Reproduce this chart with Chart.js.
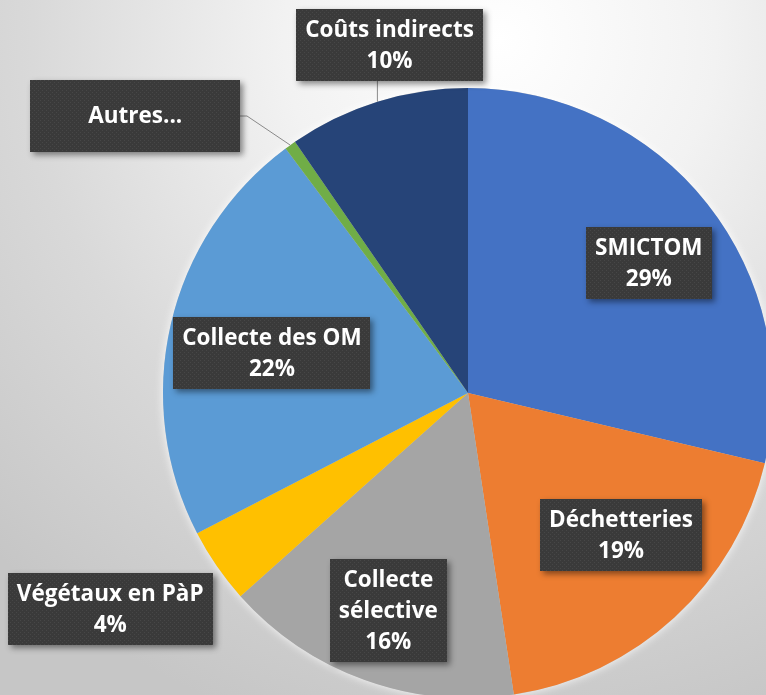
<!DOCTYPE html>
<html>
<head>
<meta charset="utf-8">
<script src="https://cdn.jsdelivr.net/npm/chart.js@4.4.1/dist/chart.umd.min.js"></script>
<style>
  html, body { margin: 0; padding: 0; background: #e0e0e0; }
  #clip { width: 766px; height: 695px; overflow: hidden; position: relative; }
  #wrap { width: 800px; height: 800px; position: absolute; left: 0; top: 0; }
</style>
</head>
<body>
<div id="clip"><div id="wrap"><canvas id="c"></canvas></div></div>
<script>
// ---- data ----
const categories = ['SMICTOM', 'Déchetteries', 'Collecte sélective', 'Végétaux en PàP', 'Collecte des OM', 'Autres...', 'Coûts indirects'];
const shares = [28.7, 18.9, 15.8, 4.0, 22.4, 0.6, 9.6];
const labelLines = [['SMICTOM'], ['Déchetteries'], ['Collecte', 'sélective'], ['Végétaux en PàP'], ['Collecte des OM'], ['Autres...'], ['Coûts indirects']];
const showPercent = [true, true, true, true, true, false, true];
const sliceColors = ['#4472C4', '#ED7D31', '#A5A5A5', '#FFC000', '#5B9BD5', '#70AD47', '#264478'];

// ---- label layout (angle from top clockwise in degrees, radius factor) ----
const labelPlace = [
  { a: 54.3, r: 0.73 },
  { a: 132.9, r: 0.685 },
  { a: 200.1, r: 0.76 },
  { a: 238.9, r: 1.37, leader: false },
  { a: 281.5, r: 0.656 },
  { a: 309.8, r: 1.42, w: 210, h: 72, leader: true },
  { a: 347.3, r: 1.17, leader: true }
];

const FONT = 'bold 22.5px "Open Sans"';
const LINE_H = 31;

// dotted texture for label boxes
function makePattern(ctx) {
  const p = document.createElement('canvas');
  p.width = 4; p.height = 4;
  const g = p.getContext('2d');
  g.fillStyle = '#3a3a3a';
  g.fillRect(0, 0, 4, 4);
  g.fillStyle = '#474747';
  g.fillRect(0, 0, 1, 1);
  g.fillRect(2, 2, 1, 1);
  return ctx.createPattern(p, 'repeat');
}

const bgPlugin = {
  id: 'bg',
  beforeDraw(chart) {
    const ctx = chart.ctx;
    const g = ctx.createRadialGradient(500, 40, 0, 500, 40, 720);
    g.addColorStop(0, '#ffffff');
    g.addColorStop(0.3, '#f2f2f2');
    g.addColorStop(0.65, '#d9d9d9');
    g.addColorStop(1, '#c6c6c6');
    ctx.save();
    ctx.fillStyle = g;
    ctx.fillRect(0, 0, chart.width, chart.height);
    ctx.restore();
  },
  beforeDatasetsDraw(chart) {
    const arc = chart.getDatasetMeta(0).data[0];
    if (!arc) return;
    const ctx = chart.ctx;
    ctx.save();
    ctx.shadowColor = 'rgba(255,255,255,0.9)';
    ctx.shadowBlur = 10;
    ctx.fillStyle = '#cccccc';
    ctx.beginPath();
    ctx.arc(arc.x, arc.y, arc.outerRadius, 0, Math.PI * 2);
    ctx.fill();
    ctx.restore();
  }
};

const labelPlugin = {
  id: 'boxLabels',
  afterDatasetsDraw(chart) {
    const ctx = chart.ctx;
    const meta = chart.getDatasetMeta(0);
    const data = chart.data.datasets[0].data;
    const total = data.reduce((s, v) => s + v, 0);
    const pattern = makePattern(ctx);
    ctx.save();
    ctx.font = FONT;
    meta.data.forEach((arc, i) => {
      const pl = labelPlace[i];
      const R = arc.outerRadius;
      const ang = pl.a * Math.PI / 180;
      const cx = arc.x + Math.sin(ang) * R * pl.r;
      const cy = arc.y - Math.cos(ang) * R * pl.r;
      const lines = labelLines[i].slice();
      if (showPercent[i]) lines.push(Math.round(data[i] / total * 100) + '%');
      let tw = 0;
      lines.forEach(t => { tw = Math.max(tw, ctx.measureText(t).width); });
      const w = pl.w || Math.round(tw + 18);
      const h = pl.h || Math.round(lines.length * LINE_H + 10);
      const x0 = Math.round(cx - w / 2), y0 = Math.round(cy - h / 2);

      // leader line
      if (pl.leader) {
        const mid = (arc.startAngle + arc.endAngle) / 2;
        const px = arc.x + Math.cos(mid) * R;
        const py = arc.y + Math.sin(mid) * R;
        ctx.save();
        ctx.strokeStyle = '#8a8a8a';
        ctx.lineWidth = 1;
        ctx.beginPath();
        if (px >= x0 && px <= x0 + w && py > y0 + h) {
          ctx.moveTo(px, y0 + h);
          ctx.lineTo(px, py);
        } else {
          const sx = px > x0 + w ? x0 + w : x0;
          const dir = px > x0 + w ? 1 : -1;
          ctx.moveTo(sx, y0 + h / 2);
          ctx.lineTo(sx + dir * 7, y0 + h / 2);
          ctx.lineTo(px, py);
        }
        ctx.stroke();
        ctx.restore();
      }

      // box with shadow
      ctx.save();
      ctx.shadowColor = 'rgba(0,0,0,0.45)';
      ctx.shadowBlur = 6;
      ctx.shadowOffsetX = 3;
      ctx.shadowOffsetY = 3;
      ctx.fillStyle = '#3b3b3b';
      ctx.fillRect(x0, y0, w, h);
      ctx.restore();
      ctx.fillStyle = pattern;
      ctx.fillRect(x0, y0, w, h);

      // text
      ctx.fillStyle = '#ffffff';
      ctx.textAlign = 'center';
      ctx.textBaseline = 'middle';
      const startY = cy - (lines.length - 1) * LINE_H / 2;
      lines.forEach((t, k) => ctx.fillText(t, cx, startY + k * LINE_H + 1));
    });
    ctx.restore();
  }
};

new Chart(document.getElementById('c'), {
  type: 'pie',
  data: {
    labels: categories,
    datasets: [{
      data: shares,
      backgroundColor: sliceColors,
      borderWidth: 0
    }]
  },
  options: {
    responsive: true,
    maintainAspectRatio: false,
    animation: false,
    layout: { padding: { left: 163, right: 27, top: 88, bottom: 102 } },
    plugins: { legend: { display: false }, tooltip: { enabled: false }, title: { display: false } }
  },
  plugins: [bgPlugin, labelPlugin]
});
</script>
</body>
</html>
